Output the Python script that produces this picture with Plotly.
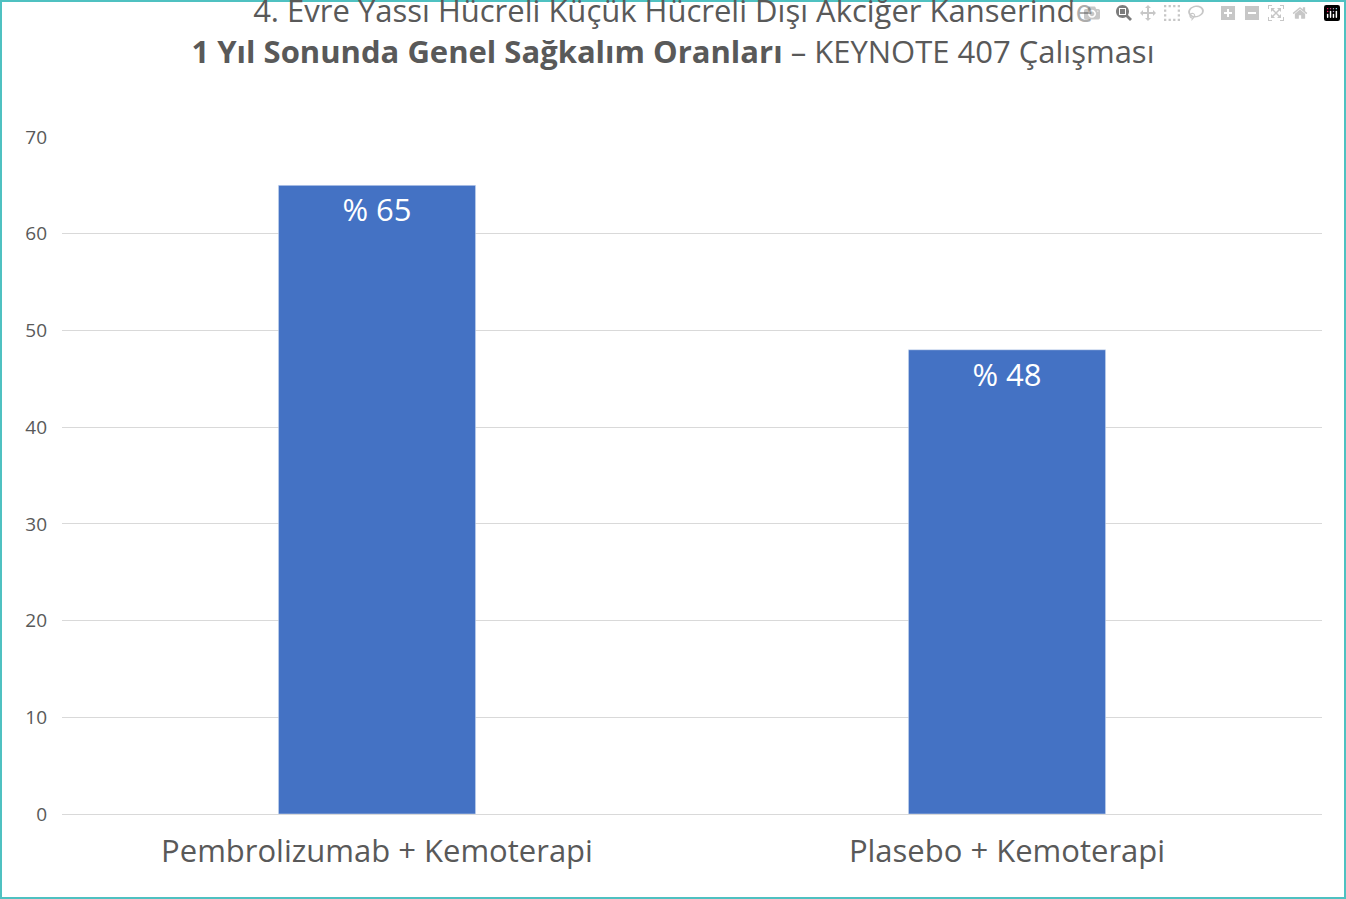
import plotly.graph_objects as go

categories = ["Pembrolizumab + Kemoterapi", "Plasebo + Kemoterapi"]
values = [65, 48]
labels = ["% 65", "% 48"]

W, H = 1346, 899
L, R, T, B = 62, 24, 137, 85
pw, ph = W - L - R, H - T - B

fig = go.Figure(go.Bar(
    x=categories, y=values, text=labels, textposition="inside",
    insidetextanchor="end", marker_color="#4472C4", width=0.313,
    textfont=dict(color="white", size=31, family="Open Sans"),
))
fig.update_layout(
    width=W, height=H, margin=dict(l=L, r=R, t=T, b=B),
    paper_bgcolor="white", plot_bgcolor="white", showlegend=False,
    title=dict(text="4. Evre Yassı Hücreli Küçük Hücreli Dışı Akciğer Kanserinde<br><b>1 Yıl Sonunda Genel Sağkalım Oranları</b> – KEYNOTE 407 Çalışması",
               x=0.5, xanchor="center", y=0.975, yanchor="top",
               font=dict(family="Open Sans", size=31, color="#595959")),
    xaxis=dict(tickfont=dict(family="Open Sans", size=31, color="#595959"),
               showline=True, linecolor="#d9d9d9", ticks="", ticklabelstandoff=10),
    yaxis=dict(range=[0, 70], dtick=10, gridcolor="#d9d9d9", zeroline=False,
               tickfont=dict(family="Open Sans", size=19, color="#595959"), ticklabelstandoff=14),
    shapes=[dict(type="rect", xref="paper", yref="paper",
                 x0=(1 - L) / pw, x1=(W - 1 - L) / pw,
                 y0=-(B - 1) / ph, y1=1 + (T - 1) / ph,
                 line=dict(color="#4fc1c1", width=2))],
)
fig.write_html("out.html", post_script="document.body.style.margin='0';")
